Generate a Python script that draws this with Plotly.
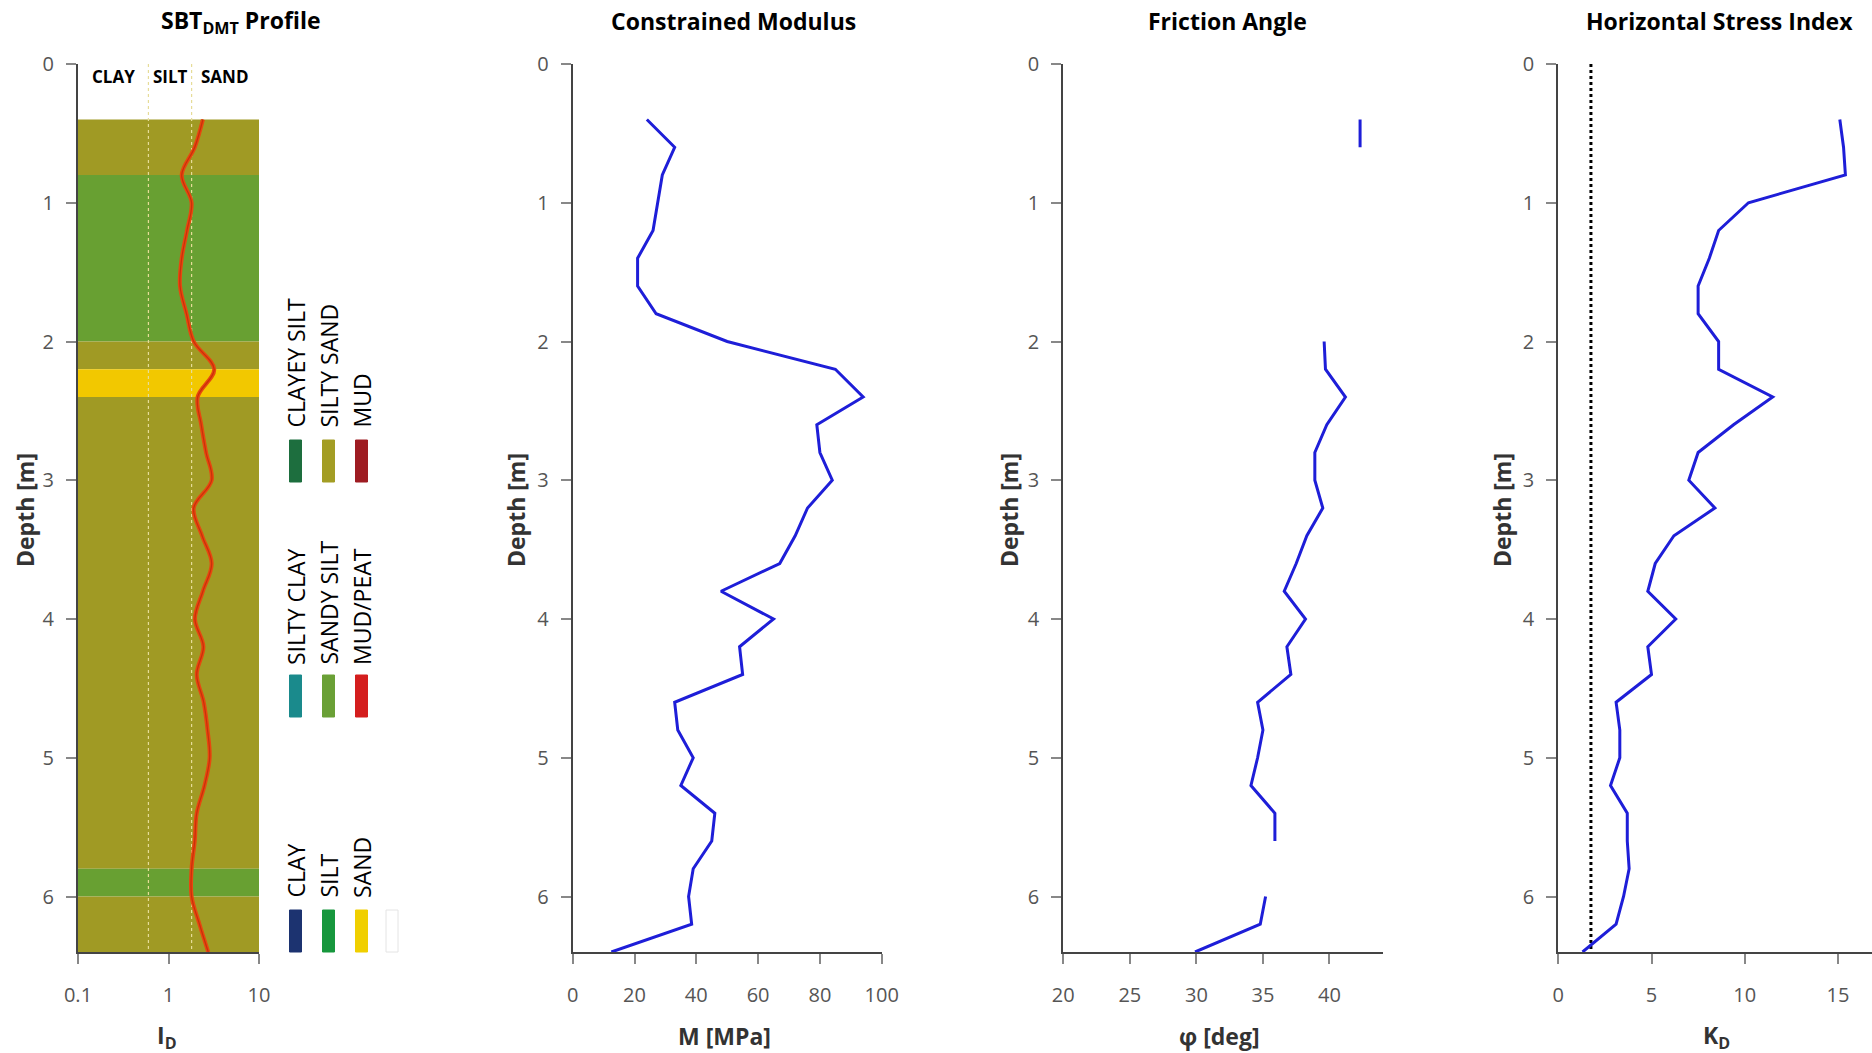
import math
import plotly.graph_objects as go

W, H = 1872, 1053
ML, MR, MT, MB = 0, 0, 64, 101
PH = H - MT - MB  # plot height in px

# ---------------- data ----------------
depth = [0.4, 0.6, 0.8, 1.0, 1.2, 1.4, 1.6, 1.8, 2.0, 2.2, 2.4, 2.6, 2.8, 3.0, 3.2, 3.4,
         3.6, 3.8, 4.0, 4.2, 4.4, 4.6, 4.8, 5.0, 5.2, 5.4, 5.6, 5.8, 6.0, 6.2, 6.4]

id_vals = [2.4, 1.95, 1.4, 1.8, 1.6, 1.4, 1.34, 1.58, 1.9, 3.2, 2.1, 2.3, 2.6, 3.0, 1.9, 2.35,
           3.0, 2.4, 1.96, 2.43, 2.05, 2.45, 2.7, 2.85, 2.5, 2.05, 1.95, 1.8, 1.8, 2.2, 2.75]

m_vals = [24, 33, 29, 26, 21, 21, 27, 50, 85, 94, 79, 80, 84, 76, 72,
          67, 48, 65, 54, 55, 33, 34, 39, 35, 46, 45, 39, 37.5, 38.5, 12.5]
m_depth = [0.4, 0.6, 0.8, 1.2, 1.4, 1.6, 1.8, 2.0, 2.2, 2.4, 2.6, 2.8, 3.0, 3.2, 3.4,
           3.6, 3.8, 4.0, 4.2, 4.4, 4.6, 4.8, 5.0, 5.2, 5.4, 5.6, 5.8, 6.0, 6.2, 6.4]

phi_vals = [42.3, 42.3, None, None, None, None, None, None, 39.6, 39.7, 41.2, 39.8, 38.9, 38.9, 39.5, 38.3,
            37.5, 36.6, 38.2, 36.8, 37.1, 34.6, 35.0, 34.6, 34.1, 35.9, 35.9, None, 35.2, 34.8, 29.9]

kd_vals = [15.1, 15.3, 15.4, 10.2, 8.6, 8.1, 7.5, 7.5, 8.6, 8.6, 11.5, 9.4, 7.5, 7.0, 8.4, 6.2,
           5.2, 4.8, 6.3, 4.8, 5.0, 3.1, 3.3, 3.3, 2.8, 3.7, 3.7, 3.8, 3.5, 3.1, 1.3]

kd_ref_value = 1.75
depth_max = 6.4

# SBT bands (top, bottom, soil)
band_top = [0.4, 0.8, 2.0, 2.2, 2.4, 5.8, 6.0]
band_bot = [0.8, 2.0, 2.2, 2.4, 5.8, 6.0, 6.4]
band_soil = ["SILTY SAND", "SANDY SILT", "SILTY SAND", "SAND", "SILTY SAND", "SANDY SILT", "SILTY SAND"]

soil_colors = {
    "CLAYEY SILT": "#1d6e3e", "SILTY SAND": "#a39d24", "MUD": "#9e1c22",
    "SILTY CLAY": "#1a8a8c", "SANDY SILT": "#6aa036", "MUD/PEAT": "#d41e1e",
    "CLAY": "#1c3370", "SILT": "#17973d", "SAND": "#f0cf00", "": "#ffffff",
}
band_fill = {"SILTY SAND": "#a09a24", "SANDY SILT": "#68a032", "SAND": "#f2c800"}

legend_groups = [
    ["CLAYEY SILT", "SILTY SAND", "MUD"],
    ["SILTY CLAY", "SANDY SILT", "MUD/PEAT"],
    ["CLAY", "SILT", "SAND", ""],
]

id_bounds = [0.6, 1.8]
zone_labels = ["CLAY", "SILT", "SAND"]

titles = ["SBT<sub>DMT</sub> Profile", "Constrained Modulus", "Friction Angle", "Horizontal Stress Index"]
xtitles = ["I<sub>D</sub>", "M [MPa]", "φ [deg]", "K<sub>D</sub>"]

# ---------------- helpers ----------------
def px_x(p):
    return p / W

def px_y(p):
    return (H - MB - p) / PH

FONT = "Open Sans"
TICKC = "#555555"
AXC = "#444444"
BLUE = "#1e1ed8"

panels_px = [(78, 259), (572.7, 881.7), (1063.3, 1382.7), (1558.3, 1871.5)]

fig = go.Figure()

# panel 1 traces
for b in id_bounds:
    fig.add_trace(go.Scatter(x=[b, b], y=[0, depth_max], mode="lines",
                             line=dict(color="#e6dc98", width=1.2, dash="dot"),
                             xaxis="x", yaxis="y", showlegend=False, hoverinfo="skip"))
fig.add_trace(go.Scatter(x=id_vals, y=depth, mode="lines", line=dict(color="#e8480e", width=4, shape="spline"),
                         xaxis="x", yaxis="y", showlegend=False))
fig.add_trace(go.Scatter(x=id_vals, y=depth, mode="lines", line=dict(color="#c8300c", width=1.2, shape="spline"),
                         xaxis="x", yaxis="y", showlegend=False))

# panel 2
fig.add_trace(go.Scatter(x=m_vals, y=m_depth, mode="lines", line=dict(color=BLUE, width=3),
                         xaxis="x2", yaxis="y2", showlegend=False))
# panel 3
fig.add_trace(go.Scatter(x=phi_vals, y=depth, mode="lines", line=dict(color=BLUE, width=3),
                         xaxis="x3", yaxis="y3", showlegend=False, connectgaps=False))
# panel 4
fig.add_trace(go.Scatter(x=[kd_ref_value, kd_ref_value], y=[0, depth_max], mode="lines",
                         line=dict(color="black", width=3, dash="dot"),
                         xaxis="x4", yaxis="y4", showlegend=False))
fig.add_trace(go.Scatter(x=kd_vals, y=depth, mode="lines", line=dict(color=BLUE, width=3),
                         xaxis="x4", yaxis="y4", showlegend=False))

shapes = []
for t, b, s in zip(band_top, band_bot, band_soil):
    shapes.append(dict(type="rect", xref="x domain", yref="y", x0=0, x1=1, y0=t, y1=b,
                       fillcolor=band_fill[s], line=dict(width=0), layer="below"))

annotations = []
# zone labels
edges = [-1, math.log10(id_bounds[0]), math.log10(id_bounds[1]), 1]
for i, lab in enumerate(zone_labels):
    annotations.append(dict(text=f"<b>{lab}</b>", x=(edges[i] + edges[i + 1]) / 2, y=0.09,
                            xref="x", yref="y", showarrow=False, yanchor="middle",
                            font=dict(family=FONT, size=17, color="black")))

# legend
group_bar_top = [440, 675, 910]
group_text_bottom = [430, 667, 900]
col_x = [295.5, 328.5, 361.5, 392]
for g, names in enumerate(legend_groups):
    for c, name in enumerate(names):
        cx = col_x[c]
        shapes.append(dict(type="rect", xref="paper", yref="paper",
                           x0=px_x(cx - 6), x1=px_x(cx + 6),
                           y0=px_y(group_bar_top[g] + 42), y1=px_y(group_bar_top[g]),
                           fillcolor=soil_colors[name],
                           line=dict(width=1, color="#e4e4e4" if name == "" else soil_colors[name])))
        if name:
            annotations.append(dict(text=name, textangle=-90, x=px_x(cx), y=px_y(group_text_bottom[g]),
                                    xref="paper", yref="paper", xanchor="center", yanchor="bottom",
                                    showarrow=False, font=dict(family=FONT, size=23, color="black")))

# titles
title_cx = [241, 733, 1227, 1719]
for t, cx in zip(titles, title_cx):
    annotations.append(dict(text=f"<b>{t}</b>", x=px_x(cx), y=px_y(21), xref="paper", yref="paper",
                            xanchor="center", yanchor="middle", showarrow=False,
                            font=dict(family=FONT, size=23, color="black")))
xt_cx = [167, 724, 1219, 1716]
for t, cx in zip(xtitles, xt_cx):
    annotations.append(dict(text=f"<b>{t}</b>", x=px_x(cx), y=px_y(1036), xref="paper", yref="paper",
                            xanchor="center", yanchor="middle", showarrow=False,
                            font=dict(family=FONT, size=23, color="#333333")))
yt_cx = [25, 516, 1009, 1502]
for cx in yt_cx:
    annotations.append(dict(text="<b>Depth [m]</b>", textangle=-90, x=px_x(cx), y=px_y(510),
                            xref="paper", yref="paper", xanchor="center", yanchor="middle",
                            showarrow=False, font=dict(family=FONT, size=23, color="#333333")))

def xax(dom, **kw):
    d = dict(domain=[px_x(dom[0]), px_x(dom[1])], showgrid=False, zeroline=False, automargin=False,
             showline=True, linecolor=AXC, linewidth=2, ticks="outside", ticklen=10,
             tickcolor="#888888", tickwidth=2, tickfont=dict(family=FONT, size=20, color=TICKC),
             ticklabelstandoff=14, mirror=False)
    d.update(kw)
    return d

def yax(anchor, **kw):
    d = dict(domain=[0, 1], anchor=anchor, range=[depth_max, 0], showgrid=False, zeroline=False,
             automargin=False,
             showline=True, linecolor=AXC, linewidth=2, ticks="outside", ticklen=10,
             tickcolor="#888888", tickwidth=2, tickvals=[0, 1, 2, 3, 4, 5, 6],
             tickfont=dict(family=FONT, size=20, color=TICKC), ticklabelstandoff=8)
    d.update(kw)
    return d

fig.update_layout(
    width=W, height=H, margin=dict(l=ML, r=MR, t=MT, b=MB, autoexpand=False),
    paper_bgcolor="white", plot_bgcolor="white", showlegend=False,
    xaxis=xax(panels_px[0], type="log", range=[-1, 1], tickvals=[0.1, 1, 10], ticktext=["0.1", "1", "10"], anchor="y"),
    yaxis=yax("x"),
    xaxis2=xax(panels_px[1], range=[0, 100], tickvals=[0, 20, 40, 60, 80, 100], anchor="y2"),
    yaxis2=yax("x2"),
    xaxis3=xax(panels_px[2], range=[20, 44], tickvals=[20, 25, 30, 35, 40], anchor="y3"),
    yaxis3=yax("x3"),
    xaxis4=xax(panels_px[3], range=[0, 16.8], tickvals=[0, 5, 10, 15], anchor="y4"),
    yaxis4=yax("x4"),
    shapes=shapes, annotations=annotations,
)

fig.write_html("out.html")
